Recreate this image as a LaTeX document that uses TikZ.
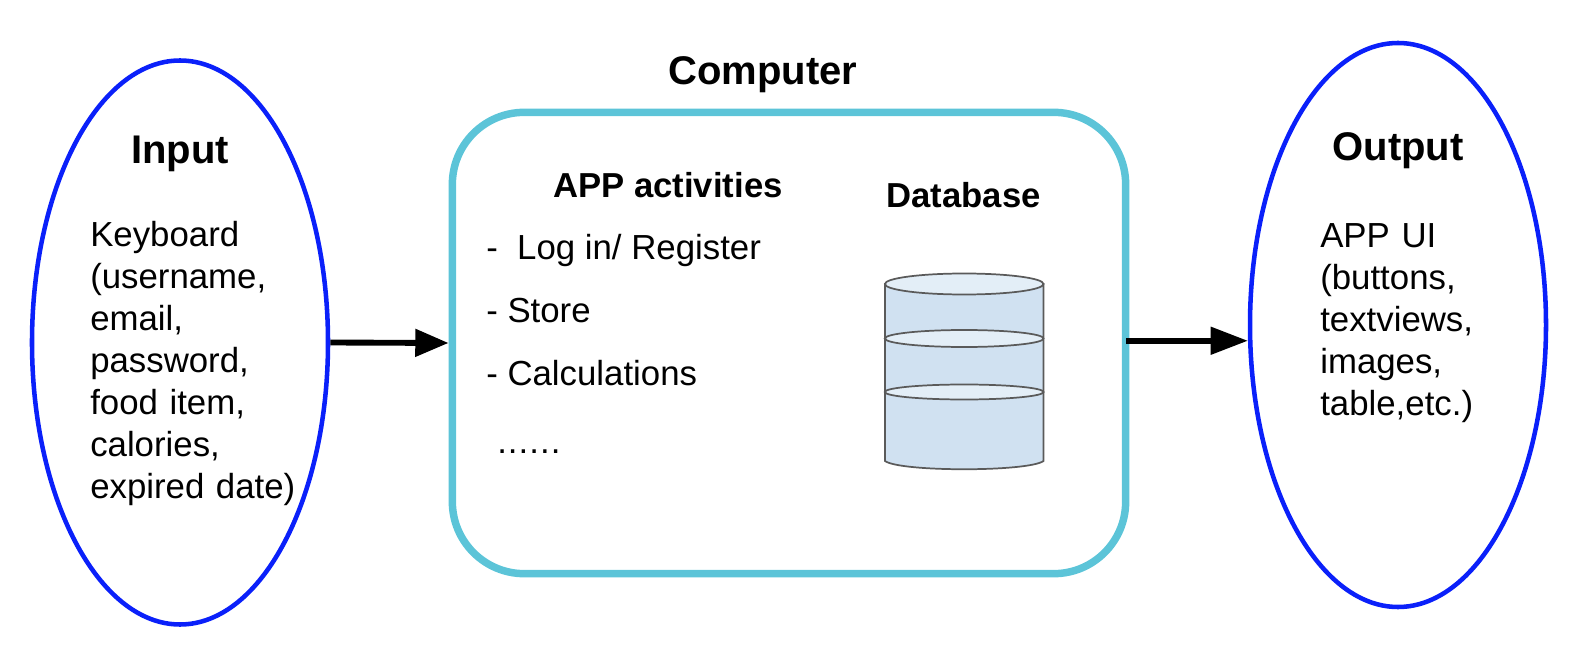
\documentclass[tikz,border=0pt]{standalone}
\usepackage{fontspec}
\setmainfont{Liberation Sans}
\usetikzlibrary{shapes.geometric,arrows.meta}
\definecolor{ovalblue}{HTML}{0A20FA}
\definecolor{boxcyan}{HTML}{5CC4D8}
\definecolor{dbfill}{HTML}{D0E1F1}
\definecolor{dbtop}{HTML}{E3EEF7}
\definecolor{dbline}{HTML}{5A5A5A}
\tikzset{
  oval/.style={draw=ovalblue,line width=3.4pt,ellipse,inner sep=0pt,minimum width=222pt,minimum height=423pt},
  bigbox/.style={draw=boxcyan,line width=5.6pt,rectangle,rounded corners=54pt,inner sep=0pt,minimum width=505pt,minimum height=346pt},
  conn/.style={-{Triangle[length=25pt,width=20pt]},line width=4.4pt,black},
  connlong/.style={-{Triangle[length=28pt,width=20pt]},line width=4.4pt,black},
  head/.style={font=\fontsize{30}{36}\selectfont\bfseries,anchor=base,inner sep=0pt},
  subhead/.style={font=\fontsize{26}{32}\selectfont\bfseries,anchor=base,inner sep=0pt},
  body/.style={font=\fontsize{26.1}{31.5}\selectfont,anchor=base west,inner sep=0pt},
  disc/.style={draw=dbline,line width=1.3pt,fill=dbtop},
}
\begin{document}
\begin{tikzpicture}[x=0.75pt,y=-0.75pt]
\useasboundingbox (0,0) rectangle (1580,648);
\node[oval] (input) at (180,342.5) {};
\node[oval] (output) at (1398,325) {};
\node[bigbox] (computer) at (789,343) {};
\draw[conn] (input.east) -- (computer.west);
\draw[connlong,shorten <=-2.5pt] (computer.east |- output.186.2) -- (output.186.2);
\node[head] (tinput) at (180,163.5) {Input};
\node[head] (toutput) at (1398,161) {Output};
\node[head] (tcomputer) at (763,85) {Computer};
\node[subhead] (tapp) at (668,198) {APP activities};
\node[subhead] (tdb) at (963.5,207.5) {Database};
\node[body,align=left,anchor=north west,text width=240pt] (kbd) at (90,221) {Keyboard\\(username,\\email,\\password,\\food item,\\calories,\\expired date)};
\node[body,align=left,anchor=north west,text width=180pt] (ui) at (1320,223) {APP UI\\(buttons,\\textviews,\\images,\\table,etc.)};
\node[body] (a1) at (486,260) {-\ \ Log in/ Register};
\node[body] (a2) at (486,322.5) {- Store};
\node[body] (a3) at (486,385.5) {- Calculations};
\node[body] (a4) at (497,453) {\addfontfeature{LetterSpace=3}......};
% database cylinder
\draw[draw=dbline,line width=1.3pt,fill=dbfill] (885,284) -- (885,461) .. controls (900,472) and (1028,472) .. (1043.5,461) -- (1043.5,284) -- cycle;
\draw[disc] (964.2,284) ellipse [x radius=79.3,y radius=10.5];
\draw[disc] (964.2,338.5) ellipse [x radius=79.3,y radius=8.5];
\draw[disc] (964.2,392) ellipse [x radius=79.3,y radius=7.5];
\end{tikzpicture}
\end{document}
